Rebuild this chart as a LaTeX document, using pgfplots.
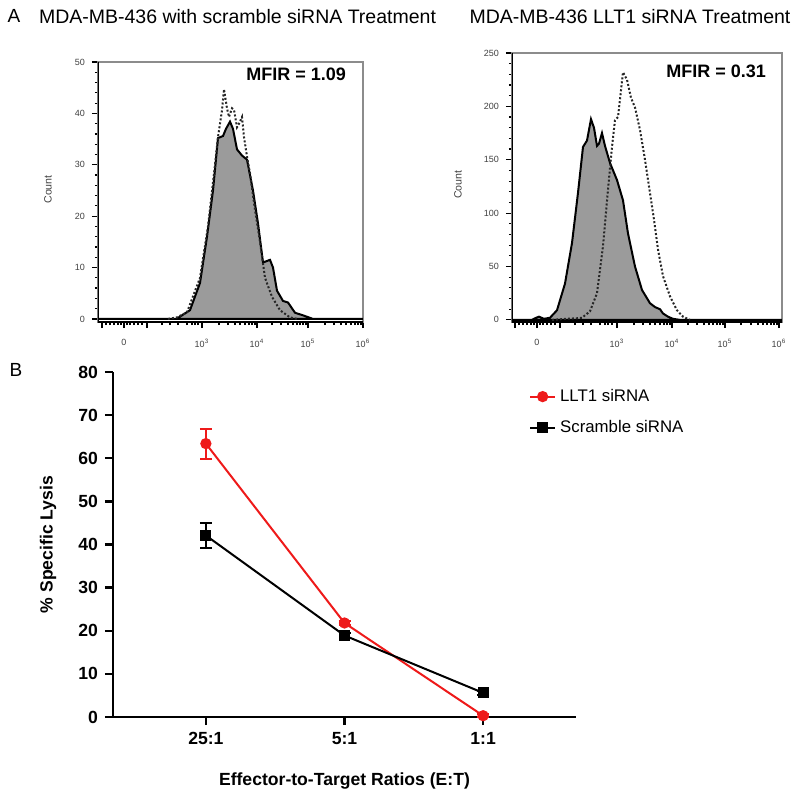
\documentclass[border=0pt]{standalone}
\usepackage{fontspec}
\setmainfont{Liberation Sans}
\usepackage{pgfplots}
\pgfplotsset{compat=1.18}

\definecolor{histGray}{HTML}{9B9B9B}
\definecolor{lltRed}{HTML}{EE1A1A}

% flow histograms: x is the display position (biexponential scale), y is count
\pgfplotsset{
  histo/.style={
    scale only axis,
    xmin=0,
    tick align=outside, xtick pos=bottom, ytick pos=left,
    tick style={black, line width=0.6pt},
    major tick length=3pt, minor tick length=1.6pt,
    minor y tick num=4,
    ticklabel style={font=\fontsize{4.5}{5}\selectfont, text=black!75},
    xticklabel style={yshift=-2pt},
    /pgf/number format/assume math mode=true,
    axis line style={black!45, line width=0.6pt},
    ylabel={Count},
    ylabel style={font=\fontsize{5.3}{6}\selectfont, text=black!75},
    xticklabels={0,10\textsuperscript{3},10\textsuperscript{4},10\textsuperscript{5},10\textsuperscript{6}},
    extra x tick labels={},
  },
  sample/.style={draw=black, line width=1pt, fill=histGray},
  control/.style={draw=black!85, line width=1pt, dash pattern=on 1pt off 1pt},
}

\begin{document}
\begin{tikzpicture}
\useasboundingbox (0,0) rectangle (400pt,-399.5pt);

% === titles ===
\node[font=\fontsize{9.5}{11}\selectfont] at (7pt,-8pt) {A};
\node[font=\fontsize{9.75}{11}\selectfont] at (118.75pt,-8.5pt) {MDA-MB-436 with scramble siRNA Treatment};
\node[font=\fontsize{9.75}{11}\selectfont] at (315pt,-8.5pt) {MDA-MB-436 LLT1 siRNA Treatment};
\node[font=\fontsize{9.5}{11}\selectfont] at (8pt,-185pt) {B};

% === histogram, scramble siRNA ===
\begin{axis}[
    histo,
    at={(49pt,-161pt)}, anchor=south west,
    width=132.5pt, height=130pt,
    xmax=265, ymin=-0.6, ymax=50,
    ytick={0,10,...,50},
    xtick={26,104,159,210,265},
    extra x ticks={4,49},
    minor xtick={8,12,16,20,23,29,32,36,40,44,64,72,80,89,94,97,100,
                 121,130,137,142,147,151,154,157,
                 174,183,190,195,199,202,205,208,
                 227,236,243,248,253,257,260,263},
    ylabel style={at={(axis description cs:-0.189,0.51)}, anchor=center},
]
\addplot[sample] coordinates {
  (0,0) (78,0) (80,0.2) (92,1.7) (102,7) (109,16) (115,25) (120,35.2) (125,35.6)
  (128,37) (132,38.4) (135,37) (139,33) (144,31.8) (149,31) (155,25) (160,18.6)
  (165,11) (168,11.2) (172,11.5) (175,10) (179,5.5) (185,3.5) (190,3.2)
  (197,1.2) (205,0.7) (215,0) (265,0)
} \closedcycle;
\addplot[control] coordinates {
  (70,0) (79,0.3) (89,1.3) (102,8) (110,18) (117,30) (120,35.4) (124,40.6)
  (126,44.7) (129,41) (131,39.3) (134,41) (136,40.7) (139,37.3) (141,38)
  (144,39.3) (146,35.4) (149,31.6) (152,28.3) (157,21.2) (162,15) (167,8)
  (174,4.3) (182,1.7) (192,0.3) (199,0)
};
\draw[black, line width=1pt] (rel axis cs:0,1) -- (rel axis cs:0,0) -- (rel axis cs:1,0);
\node[anchor=east, font=\fontsize{9}{10}\selectfont\bfseries] at (rel axis cs:0.962,0.954) {MFIR = 1.09};
\end{axis}

% === histogram, LLT1 siRNA ===
\begin{axis}[
    histo,
    at={(256pt,-161pt)}, anchor=south west,
    width=135pt, height=134.5pt,
    xmax=270, ymin=-2, ymax=250,
    ytick={0,50,...,250},
    xtick={25,105,160,213,267},
    extra x ticks={3,48},
    minor xtick={7,11,15,19,22,28,31,35,39,43,63,71,79,88,93,96,100,
                 122,131,138,143,148,152,155,158,
                 176,185,192,197,201,205,208,211,
                 229,239,246,251,255,259,262,265},
    ylabel style={at={(axis description cs:-0.2,0.51)}, anchor=center},
]
\addplot[sample] coordinates {
  (0,0) (20,0) (23,1.5) (27,3) (32,1) (38,2) (45,9) (53,34) (60,72) (66,119)
  (71,162) (75,168) (79,188) (82,180) (85,163) (87,165) (90,175) (93,163)
  (98,147) (105,131) (111,112) (116,81) (123,50) (130,28) (138,15.6) (143,12)
  (148,10) (151,6) (156,3) (161,1) (168,0) (270,0)
} \closedcycle;
\addplot[control] coordinates {
  (40,0) (55,1) (65,1.5) (70,2) (78,8) (85,25) (91,69) (96,122) (100,162)
  (103,187) (106,190) (109,215) (111,232) (115,225) (119,208) (123,199)
  (128,178) (133,150) (137,125) (142,94) (146,66) (151,41) (158,22) (165,9)
  (171,3) (178,0)
};
\draw[black, line width=1pt] (rel axis cs:0,1) -- (rel axis cs:0,0) -- (rel axis cs:1,0);
\node[anchor=east, font=\fontsize{9}{10}\selectfont\bfseries] at (rel axis cs:0.967,0.933) {MFIR = 0.31};
\end{axis}

% === specific lysis ===
\begin{axis}[
    scale only axis,
    at={(56.5pt,-358.5pt)}, anchor=south west,
    width=231.5pt, height=172.5pt,
    xmin=-0.67, xmax=2.67, ymin=0, ymax=80,
    axis lines*=left,
    axis line style={line width=1.2pt},
    tick align=outside, tick style={black, line width=1.2pt},
    major tick length=4pt,
    xtick={0,1,2}, xticklabels={25:1,5:1,1:1},
    ytick={0,10,...,80},
    /pgf/number format/assume math mode=true,
    ticklabel style={font=\fontsize{8.8}{10}\selectfont\bfseries},
    xlabel={Effector-to-Target Ratios (E:T)},
    ylabel={\% Specific Lysis},
    label style={font=\fontsize{8.8}{10}\selectfont\bfseries},
    x label style={at={(axis description cs:0.5,-0.186)}, anchor=center},
    y label style={at={(axis description cs:-0.14,0.5)}, anchor=center},
    legend style={at={(axis description cs:0.885,0.975)}, anchor=north west,
        draw=none, fill=none, font=\fontsize{8.4}{10}\selectfont, row sep=4pt},
    legend cell align=left,
    legend image code/.code={\draw[mark repeat=2,mark phase=2,#1]
        plot coordinates {(0pt,0pt) (6.25pt,0pt) (12.5pt,0pt)};},
]
\addplot[color=lltRed, line width=1pt, mark=*, mark size=2.3pt,
    error bars/.cd, y dir=both, y explicit,
    error bar style={line width=1pt},
    error mark options={rotate=90, mark size=3pt, line width=1pt}]
  coordinates {
    (0,63.4) += (0,3.5) -= (0,3.6)
    (1,21.8) +- (0,0.5)
    (2,0.3) +- (0,0.3)
  };
\addlegendentry{LLT1 siRNA}
\addplot[color=black, line width=1pt, mark=square*, mark size=2.2pt,
    error bars/.cd, y dir=both, y explicit,
    error bar style={line width=1pt},
    error mark options={rotate=90, mark size=3pt, line width=1pt}]
  coordinates {
    (0,42.1) +- (0,3.0)
    (1,18.9) +- (0,0.5)
    (2,5.6) +- (0,0.4)
  };
\addlegendentry{Scramble siRNA}
\end{axis}
\end{tikzpicture}
\end{document}
